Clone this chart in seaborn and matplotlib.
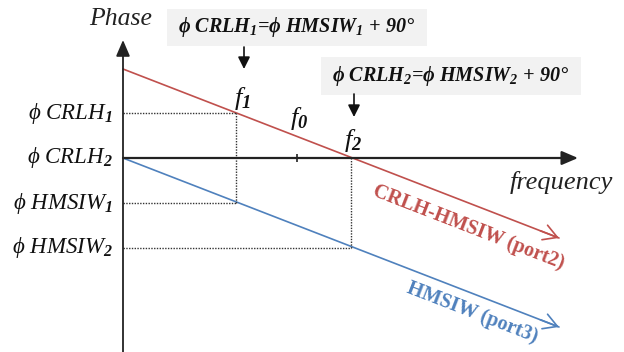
import matplotlib
matplotlib.use("Agg")
import matplotlib.pyplot as plt
import matplotlib.patches as patches
import numpy as np
import pandas as pd
import seaborn as sns

# schematic values (frequency / phase in arbitrary units)
series_names = ["CRLH-HMSIW (port2)", "HMSIW (port3)"]
crlh_freq = [0, 436]
crlh_phase = [89, -80]
hmsiw_freq = [0, 436]
hmsiw_phase = [0, -169]

f_names = ["f$_1$", "f$_0$", "f$_2$"]
f_values = [113, 174, 228]

phase_names = ["ϕ CRLH$_1$", "ϕ CRLH$_2$", "ϕ HMSIW$_1$", "ϕ HMSIW$_2$"]
phase_values = [45, 0, -45, -90]

box_texts = ["ϕ CRLH$_1$=ϕ HMSIW$_1$ + 90°", "ϕ CRLH$_2$=ϕ HMSIW$_2$ + 90°"]

red = "#c0504d"
blue = "#4f81bd"

sns.set_theme(style="white")
plt.rcParams["font.family"] = ["Liberation Serif", "DejaVu Serif"]
plt.rcParams["mathtext.fontset"] = "custom"
plt.rcParams["mathtext.rm"] = "Liberation Serif"
plt.rcParams["mathtext.it"] = "Liberation Serif:italic"
plt.rcParams["mathtext.bf"] = "Liberation Serif:bold"
plt.rcParams["mathtext.bfit"] = "Liberation Serif:italic:bold"
plt.rcParams["mathtext.default"] = "bfit"

fig = plt.figure(figsize=(6.24, 3.52), dpi=100)
ax = fig.add_axes([0, 0, 1, 1])
ax.set_xlim(-123, 501)
ax.set_ylim(-194, 158)
ax.axis("off")

df = pd.DataFrame({
    "freq": crlh_freq + hmsiw_freq,
    "phase": crlh_phase + hmsiw_phase,
    "series": [series_names[0]] * 2 + [series_names[1]] * 2,
})
sns.lineplot(data=df, x="freq", y="phase", hue="series",
             palette=[red, blue], legend=False, errorbar=None,
             linewidth=1.2, ax=ax)

# open arrowheads at line ends
for fx, py, col in [(crlh_freq, crlh_phase, red), (hmsiw_freq, hmsiw_phase, blue)]:
    dx = fx[-1] - fx[-2]
    dy = py[-1] - py[-2]
    t = 20 / np.hypot(dx, dy)
    ax.annotate("", xy=(fx[-1], py[-1]), xytext=(fx[-1] - dx * t, py[-1] - dy * t),
                arrowprops=dict(arrowstyle="->,head_length=0.7,head_width=0.4",
                                color=col, lw=1.2, mutation_scale=14,
                                shrinkA=0, shrinkB=0))

# axes
ax.annotate("", xy=(0, 118), xytext=(0, -194),
            arrowprops=dict(arrowstyle="-|>,head_length=0.7,head_width=0.3",
                            color="#222222", lw=1.3, mutation_scale=14, shrinkA=0, shrinkB=0))
ax.annotate("", xy=(455, 0), xytext=(0, 0),
            arrowprops=dict(arrowstyle="-|>,head_length=0.7,head_width=0.3",
                            color="#222222", lw=1.6, mutation_scale=14, shrinkA=0, shrinkB=0))
ax.vlines(f_values[1], -4, 4, color="#222222", lw=1.2)

# dotted guides
f1, f2 = f_values[0], f_values[2]
ax.hlines([phase_values[0], phase_values[2]], 0, f1, colors="#333333", linestyles=(0, (1, 1)), lw=1)
ax.vlines(f1, phase_values[2], phase_values[0], colors="#333333", linestyles=(0, (1, 1)), lw=1)
ax.hlines(phase_values[3], 0, f2, colors="#333333", linestyles=(0, (1, 1)), lw=1)
ax.vlines(f2, phase_values[3], phase_values[1], colors="#333333", linestyles=(0, (1, 1)), lw=1)

# labels
ax.text(-2, 139, "Phase", style="italic", fontsize=18.5, ha="center", va="center", color="#222222")
ax.text(438, -25, "frequency", style="italic", fontsize=19, ha="center", va="center", color="#222222")
for name, val in zip(phase_names, phase_values):
    ax.text(-10, val, name, style="italic", fontsize=16.5, ha="right", va="center", color="#111111")

f_pos = [(119, 60), (176, 40), (230, 17)]
for name, (x, y) in zip(f_names, f_pos):
    ax.text(x, y, name, style="italic", fontsize=19, ha="center", va="center", color="#111111")

# equation boxes
ax.add_patch(patches.Rectangle((44, 112), 260, 37, facecolor="#f2f2f2", edgecolor="none"))
ax.add_patch(patches.Rectangle((198, 63), 260, 38, facecolor="#f2f2f2", edgecolor="none"))
ax.text(174, 131, box_texts[0], style="italic", weight="bold", fontsize=14.5,
        ha="center", va="center", color="#111111")
ax.text(328, 82, box_texts[1], style="italic", weight="bold", fontsize=14.5,
        ha="center", va="center", color="#111111")
for x, y0, y1 in [(121, 111, 89), (231, 64, 41)]:
    ax.annotate("", xy=(x, y1), xytext=(x, y0),
                arrowprops=dict(arrowstyle="-|>,head_length=0.6,head_width=0.3",
                                color="#111111", lw=1.2, mutation_scale=12, shrinkA=0, shrinkB=0))

angle = np.degrees(np.arctan2(crlh_phase[1] - crlh_phase[0], crlh_freq[1] - crlh_freq[0]))
ax.text(346, -69, series_names[0], color=red, weight="bold", fontsize=14.5,
        rotation=angle, rotation_mode="anchor", ha="center", va="center")
ax.text(349, -155, series_names[1], color=blue, weight="bold", fontsize=14.5,
        rotation=angle, rotation_mode="anchor", ha="center", va="center")

fig.savefig("out.png", dpi=100)
